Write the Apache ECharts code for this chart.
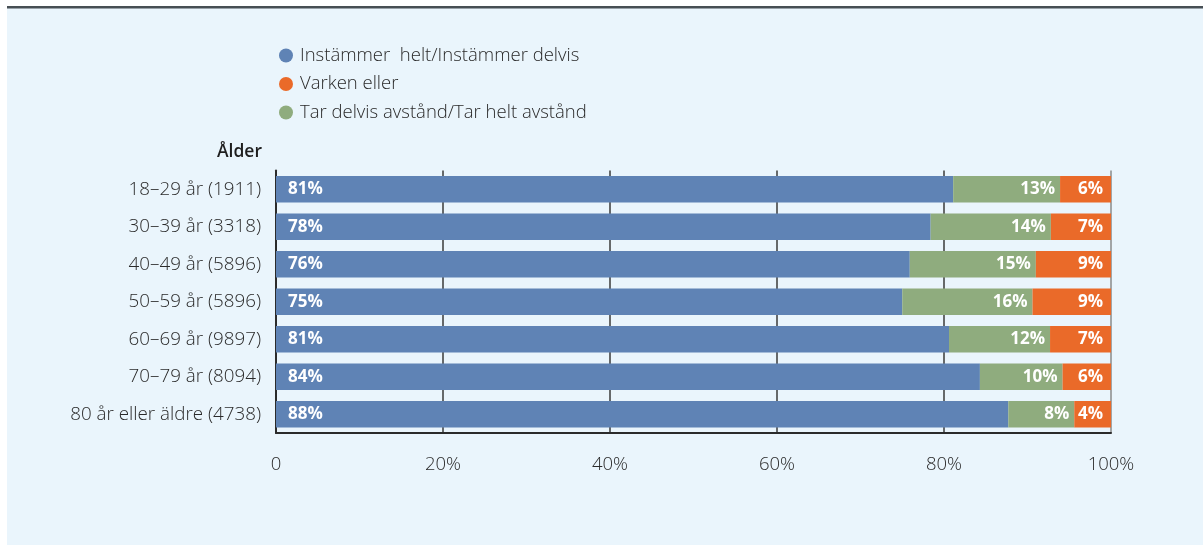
<!DOCTYPE html>
<html>
<head>
<meta charset="utf-8">
<script src="https://cdn.jsdelivr.net/npm/echarts@6/dist/echarts.min.js"></script>
<style>
html,body{margin:0;padding:0;background:#ffffff;}
#chart{width:1203px;height:545px;}
</style>
</head>
<body>
<div id="chart"></div>
<script>
var categories = ['18–29 år (1911)','30–39 år (3318)','40–49 år (5896)','50–59 år (5896)','60–69 år (9897)','70–79 år (8094)','80 år eller äldre (4738)'];
var agreeValues = [81.1, 78.4, 75.9, 75.0, 80.6, 84.3, 87.7];
var distanceValues = [12.8, 14.4, 15.1, 15.6, 12.1, 9.9, 7.9];
var neutralValues = [6.1, 7.2, 9.0, 9.4, 7.3, 5.8, 4.4];
var seriesNames = ['Instämmer  helt/Instämmer delvis','Varken eller','Tar delvis avstånd/Tar helt avstånd'];
var xTicks = [0, 20, 40, 60, 80, 100];
var axisTitle = 'Ålder';

var FONT = '"Open Sans", Lato, sans-serif';
var BLUE = '#5f83b5', ORANGE = '#ea6a29', GREEN = '#8fac7e';

var chart = echarts.init(document.getElementById('chart'), null, {renderer:'canvas'});
function pct(p){ return Math.round(p.value) + '%'; }
var option = {
  backgroundColor: 'transparent',
  animation: false,
  graphic: [
    {type:'rect', shape:{x:7, y:8, width:1196, height:537}, style:{fill:'#eaf5fc'}, z:-10},
    {type:'rect', shape:{x:7, y:6, width:1196, height:2.5}, style:{fill:'#474f54'}, z:-9}
  ],
  title: {
    text: axisTitle, right: 1203-262, top: 143, padding: 0,
    textStyle: {fontFamily: FONT, fontSize: 17.5, fontWeight: 600, color: '#1e1e1e'}
  },
  legend: {
    orient: 'vertical', left: 274, top: 41,
    itemWidth: 14, itemHeight: 14, itemGap: 9.5,
    icon: 'circle',
    data: [seriesNames[0], seriesNames[1], seriesNames[2]],
    textStyle: {fontFamily: FONT, fontSize: 18.5, fontWeight: 300, color: '#2a2a2a', padding:[0,0,0,2]}
  },
  grid: {left: 276, right: 92, top: 170.5, bottom: 112, containLabel: false},
  xAxis: {
    type: 'value', min: 0, max: 100, interval: 20,
    axisLine: {show: true, onZero: false, lineStyle: {color: '#2b2b2b', width: 2}},
    axisTick: {show: false},
    splitLine: {show: true, lineStyle: {color: ['#3a3a3a','#3a3a3a','#3a3a3a','#3a3a3a','#3a3a3a','#8a8a8a'], width: 1.5}},
    axisLabel: {
      margin: 22, fontFamily: FONT, fontSize: 18.5, fontWeight: 300, color: '#2a2a2a',
      formatter: function(v){ return xTicks.indexOf(v) === 0 ? '0' : v + '%'; }
    }
  },
  yAxis: {
    type: 'category', data: categories, inverse: true,
    axisLine: {show: true, lineStyle: {color: '#2b2b2b', width: 2}},
    axisTick: {show: false},
    axisLabel: {margin: 15, fontFamily: FONT, fontSize: 18.8, fontWeight: 300, color: '#2a2a2a'}
  },
  series: [
    {
      name: seriesNames[0], type: 'bar', stack: 'a', data: agreeValues, barCategoryGap: '29%',
      itemStyle: {color: BLUE},
      label: {show: true, position: 'insideLeft', distance: 12, formatter: pct,
        fontFamily: FONT, fontSize: 17, fontWeight: 'bold', color: '#ffffff'}
    },
    {
      name: seriesNames[2], type: 'bar', stack: 'a', data: distanceValues,
      itemStyle: {color: GREEN},
      label: {show: true, position: 'insideRight', distance: 5, formatter: pct,
        fontFamily: FONT, fontSize: 17, fontWeight: 'bold', color: '#ffffff'}
    },
    {
      name: seriesNames[1], type: 'bar', stack: 'a', data: neutralValues,
      itemStyle: {color: ORANGE},
      label: {show: true, position: 'insideRight', distance: 8, formatter: pct,
        fontFamily: FONT, fontSize: 17, fontWeight: 'bold', color: '#ffffff'}
    }
  ]
};
chart.setOption(option);
</script>
</body>
</html>
